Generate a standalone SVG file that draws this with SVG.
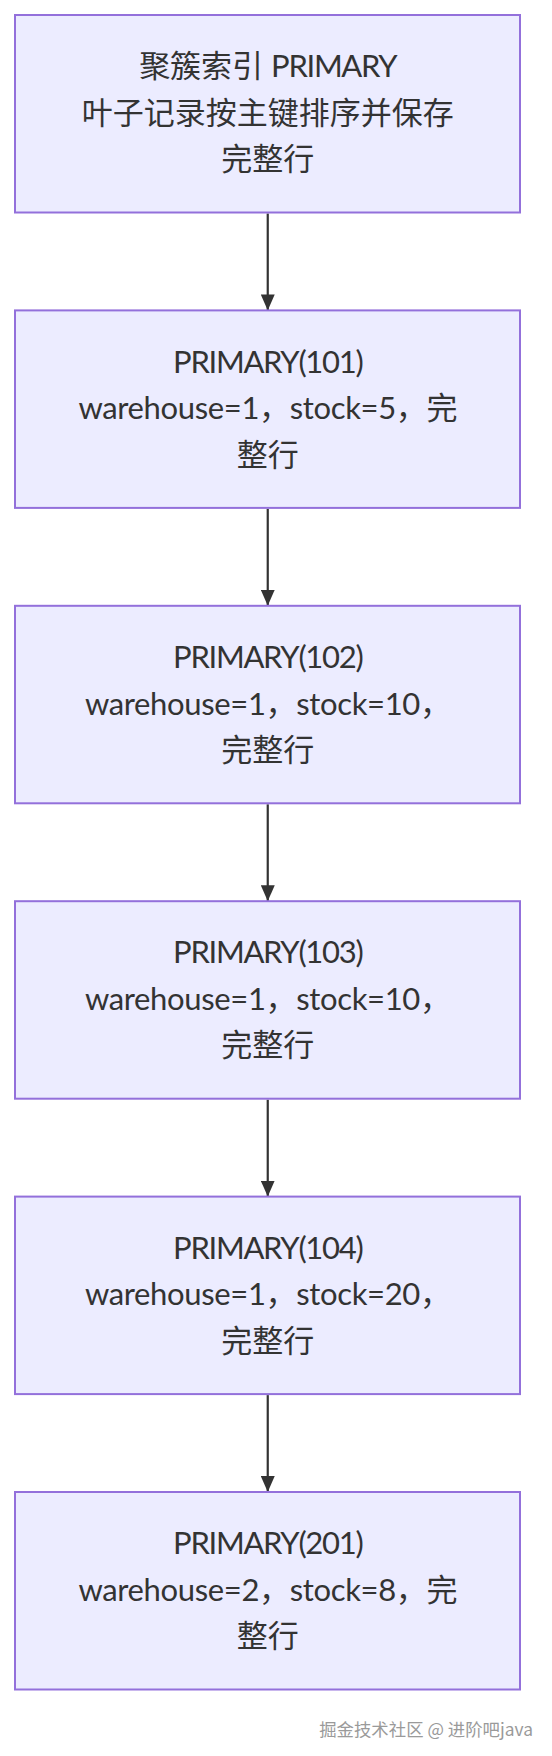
<svg xmlns="http://www.w3.org/2000/svg" width="552" height="1756" viewBox="0 0 552 1756">
<defs>
<style>
.box{fill:#ECECFF;stroke:#9370DB;stroke-width:2}
.lbl{font-family:Lato,"Noto Sans CJK SC",sans-serif;font-size:31px;fill:#333;text-anchor:middle}
.pr{letter-spacing:-1.3px}
.wh{letter-spacing:-0.35px}
.edge{stroke:#333;stroke-width:2.2;fill:none}
.wm{font-family:"Noto Sans CJK SC",sans-serif;font-size:17.4px;fill:#9a9a9a;text-anchor:end}
</style>
<marker id="arr" markerUnits="userSpaceOnUse" markerWidth="16" markerHeight="14" refX="16" refY="7" orient="auto" viewBox="0 0 16 14">
<path d="M0,0 L16,7 L0,14 Z" fill="#333"/>
</marker>
</defs>
<rect width="552" height="1756" fill="#ffffff"/>
<g id="edges">
<line class="edge" x1="267.75" y1="213.5" x2="267.75" y2="310.4" marker-end="url(#arr)"/>
<line class="edge" x1="267.75" y1="508.9" x2="267.75" y2="605.8" marker-end="url(#arr)"/>
<line class="edge" x1="267.75" y1="804.3" x2="267.75" y2="901.2" marker-end="url(#arr)"/>
<line class="edge" x1="267.75" y1="1099.7" x2="267.75" y2="1196.6" marker-end="url(#arr)"/>
<line class="edge" x1="267.75" y1="1395.1" x2="267.75" y2="1492" marker-end="url(#arr)"/>
</g>
<g id="n0">
<rect class="box" x="15" y="15" width="505" height="197.5"/>
<text class="lbl"><tspan x="267.75" y="77.25">聚簇索引 <tspan class="pr">PRIMARY</tspan></tspan><tspan x="267.75" y="123.75">叶子记录按主键排序并保存</tspan><tspan x="267.75" y="170.25">完整行</tspan></text>
</g>
<g id="n1">
<rect class="box" x="15" y="310.4" width="505" height="197.5"/>
<text class="lbl"><tspan class="pr" x="267.75" y="372.65">PRIMARY(101)</tspan><tspan class="wh" x="267.75" y="419.15">warehouse=1，stock=5，完</tspan><tspan x="267.75" y="465.65">整行</tspan></text>
</g>
<g id="n2">
<rect class="box" x="15" y="605.8" width="505" height="197.5"/>
<text class="lbl"><tspan class="pr" x="267.75" y="668.05">PRIMARY(102)</tspan><tspan class="wh" x="267.75" y="714.55">warehouse=1，stock=10，</tspan><tspan x="267.75" y="761.05">完整行</tspan></text>
</g>
<g id="n3">
<rect class="box" x="15" y="901.2" width="505" height="197.5"/>
<text class="lbl"><tspan class="pr" x="267.75" y="963.45">PRIMARY(103)</tspan><tspan class="wh" x="267.75" y="1009.95">warehouse=1，stock=10，</tspan><tspan x="267.75" y="1056.45">完整行</tspan></text>
</g>
<g id="n4">
<rect class="box" x="15" y="1196.6" width="505" height="197.5"/>
<text class="lbl"><tspan class="pr" x="267.75" y="1258.85">PRIMARY(104)</tspan><tspan class="wh" x="267.75" y="1305.35">warehouse=1，stock=20，</tspan><tspan x="267.75" y="1351.85">完整行</tspan></text>
</g>
<g id="n5">
<rect class="box" x="15" y="1492" width="505" height="197.5"/>
<text class="lbl"><tspan class="pr" x="267.75" y="1554.25">PRIMARY(201)</tspan><tspan class="wh" x="267.75" y="1600.75">warehouse=2，stock=8，完</tspan><tspan x="267.75" y="1647.25">整行</tspan></text>
</g>
<text class="wm" x="533" y="1736">掘金技术社区 @ 进阶吧java</text>
</svg>
